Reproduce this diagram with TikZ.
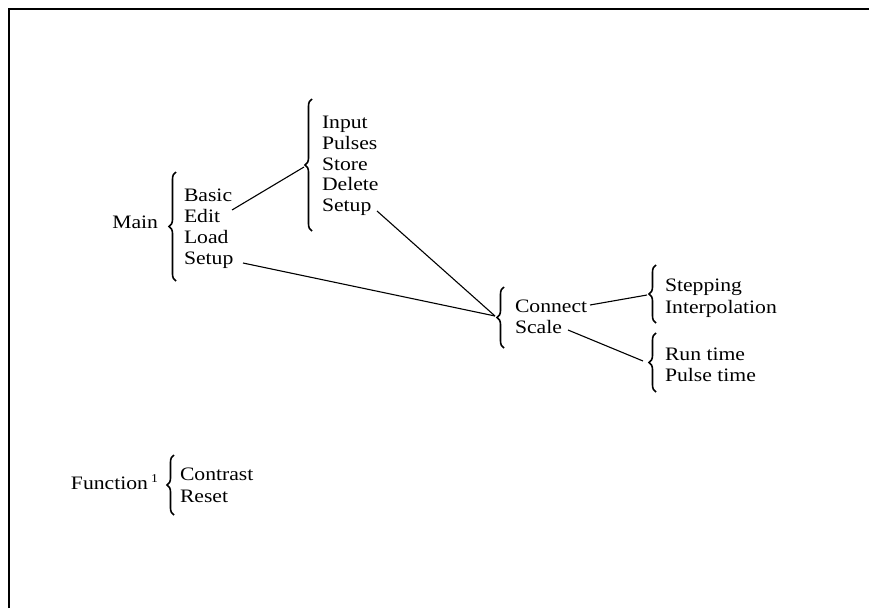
\documentclass[tikz,border=0pt]{standalone}
\usepackage{fontspec}
\setmainfont{Liberation Serif}[FakeStretch=1.14]
\usetikzlibrary{decorations.pathreplacing}
\begin{document}
\begin{tikzpicture}[x=1pt,y=-1pt,
  every node/.style={inner sep=0pt,outer sep=0pt,font=\fontsize{19}{21}\selectfont},
  word/.style={anchor=base west},
  brc/.style={decorate,decoration={brace,amplitude=7pt},line width=1.6pt},
  conn/.style={line width=1.1pt},
  frame/.style={line width=1.3pt}]
\useasboundingbox (0,0) rectangle (869,608);
\draw[frame] (9,608) -- (9,9) -- (869,9);

% Main group
\node[anchor=base east] (main) at (158,228) {Main};
\draw[brc] (176,281) -- (176,172);
\node[word] (basic) at (184,201) {Basic};
\node[word] (edit) at (184,222) {Edit};
\node[word] (load) at (184,243) {Load};
\node[word] (setupa) at (184,264) {Setup};

% Edit group
\draw[brc] (312,231) -- (312,99);
\node[word] (input) at (322,128) {Input};
\node[word] (pulses) at (322,149) {Pulses};
\node[word] (store) at (322,170) {Store};
\node[word] (delete) at (322,190) {Delete};
\node[word] (setupb) at (322,211) {Setup};

% Setup group
\draw[brc] (504,348) -- (504,287);
\node[word] (connect) at (515,312) {Connect};
\node[word] (scale) at (515,333) {Scale};

% Connect group
\draw[brc] (656,323) -- (656,265);
\node[word] (stepping) at (665,291) {Stepping};
\node[word] (interp) at (665,313) {Interpolation};

% Scale group
\draw[brc] (656,392) -- (656,333);
\node[word] (runtime) at (665,360) {Run time};
\node[word] (pulsetime) at (665,381) {Pulse time};

% Function group
\node[anchor=base east] (function) at (148,489) {Function};
\node[anchor=base west,font=\fontsize{12}{12}\selectfont] (sup) at (151,482) {1};
\draw[brc] (174,515) -- (174,455);
\node[word] (contrast) at (180,480) {Contrast};
\node[word] (reset) at (180,502) {Reset};

% connector ends
\coordinate (editend) at (232,210);
\coordinate (tipb) at (304,167);
\coordinate (setupaend) at (243,263);
\coordinate (setupbend) at (377,211);
\coordinate (tipc) at (495,316);
\coordinate (connectend) at (590,305);
\coordinate (tipd) at (647,295);
\coordinate (scaleend) at (568,330);
\coordinate (tipe) at (643,361);

\draw[conn] (editend) -- (tipb);
\draw[conn] (setupaend) -- (tipc);
\draw[conn] (setupbend) -- (tipc);
\draw[conn] (connectend) -- (tipd);
\draw[conn] (scaleend) -- (tipe);
\end{tikzpicture}
\end{document}
